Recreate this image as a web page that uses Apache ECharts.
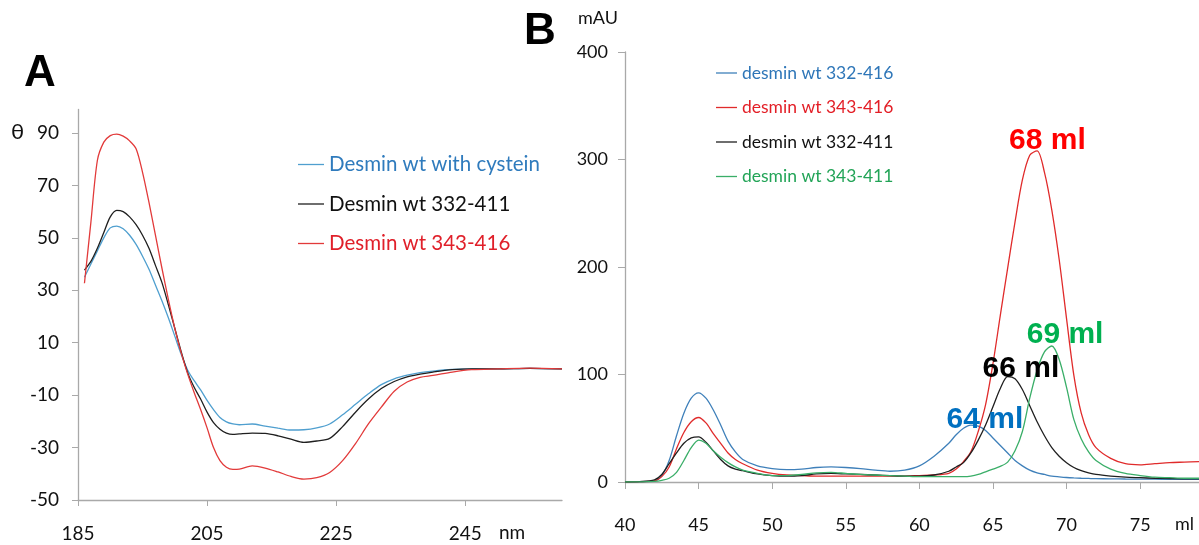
<!DOCTYPE html>
<html>
<head>
<meta charset="utf-8">
<script src="https://cdn.jsdelivr.net/npm/echarts@6/dist/echarts.min.js"></script>
<style>
html,body{margin:0;padding:0;background:#fff;}
#chart{width:1199px;height:545px;}
</style>
</head>
<body>
<div id="chart"></div>
<script>
// ---------- Panel A : CD spectra ----------
const wavelengthA = [186,187,188,189,190,191,192,193,194,195,196,197,198,199,200,201,202,203,204,205,206,207,208,209,210,212,214,216,218,220,222,224,226,228,230,232,234,236,238,240,243,246,250,255,260];
const cdCystein  = [35,40,45,50,53.8,54.5,53.5,51,47.5,43,38,32,26,19.5,12.5,5.5,-0.5,-4.5,-8,-12,-15.5,-18.5,-20.2,-21,-21.3,-21,-21.8,-22.6,-23.3,-23.2,-22.5,-21,-17.5,-13.5,-9.5,-6,-3.8,-2.4,-1.4,-0.8,-0.2,0,0,0.2,0];
const cd332_411  = [37.7,41,46,52,58,60.5,60,58,55,51,46,39.5,33,24.5,15.5,6.5,-1.5,-7,-11.5,-16.5,-20.5,-23,-24.5,-25,-24.8,-24.5,-24.6,-25.5,-26.8,-28,-27.5,-26.5,-22,-16.5,-11.5,-7.5,-4.8,-3,-2,-1.2,-0.3,0,0,0.2,0];
const cd343_416  = [32.7,56,79.5,86.5,89,89.6,88.8,87,84,75,63.5,51,38.5,26.5,15.5,6,-2,-9,-15.5,-22.5,-30,-35,-37.5,-38.3,-38.2,-37,-37.8,-39.3,-41,-42,-41.5,-39.5,-35,-28.5,-21,-14.6,-8.5,-5,-3.2,-2.5,-1.2,-0.3,0,0.3,0];
const namesA = ['Desmin wt with cystein','Desmin wt 332-411','Desmin wt 343-416'];
const yTicksA = [-50,-30,-10,10,30,50,70,90];
const xTicksA = [185,205,225,245];

// ---------- Panel B : size-exclusion chromatography ----------
const volumeB = [40,41,42,42.5,43,43.5,44,44.5,45,45.5,46,46.5,47,47.5,48,49,50,51,52,53,54,55,56,57,58,59,60,61,62,62.5,63,63.5,64,64.5,65,65.5,66,66.5,67,67.5,68,68.5,69,69.5,70,70.5,71,71.5,72,73,74,75,76,77,78,79];
const sec332_416 = [0,0.3,1,6,20,43,64,78,83,78,67,53,38,28,21,15,12.5,11.5,12,13.5,14,13.5,12.5,11,10,11,15,24,36,44,50,53,52,48,41,34,27,20,15,11,8.5,7,5.5,4.8,4.2,3.8,3.5,3.3,3.1,3,2.8,2.7,2.6,2.5,2.5,2.5];
const sec343_416 = [0,0.3,1,5,14,31,46,56,60,55,45,36,27,21,17,11,8,6.5,6,5.5,5.5,5.5,5.5,5.5,5.5,5.5,6,6.5,8,12,19,28,47,72,110,155,199,242,281,304,308,288,253,207,152,99,64,44,32,22,17,16,17,18,18.5,19];
const sec332_411 = [0,0.3,2,7,17,27,36,41,42,37,29,21,15,12,10.5,7.5,6,5.5,6,7.5,8,7.5,7,6.5,6,5.5,5.5,6.5,10,14,18,27,39,53,70,87,98,96,86,71,56,43,32,24,18,13.5,10.5,8.5,7,5.5,4.5,4,3.5,3.2,3,3];
const sec343_411 = [0,0.1,0.5,1.5,3.5,9,20,32,39,36,29,23,18,14,11,8,6,6,7,8.5,9,8,7,6.5,6,5.5,5,5,5,5,5,5.5,7,9.5,12,14.5,18.5,29,47,78,104,121,126.5,114,88,58,40,28,20,12,8,6,4.5,4,3.5,3.5];
const namesB = ['desmin wt 332-416','desmin wt 343-416','desmin wt 332-411','desmin wt 343-411'];
const peakLabels = ['64 ml','66 ml','68 ml','69 ml'];
const yTicksB = [0,100,200,300,400];
const xTicksB = [40,45,50,55,60,65,70,75];

const colA = ['#4f9fcf','#1f1f1f','#e23a3a'];
const txtA = ['#2f7bbd','#111111','#e0202a'];
const colB = ['#3f80ba','#e02b2b','#1f1f1f','#3aae68'];
const txtB = ['#2e76b8','#e31e26','#111111','#22a457'];
const labelFont = 'Lato, "Open Sans", sans-serif';

const zip = (xs, ys) => xs.map((x, i) => [x, ys[i]]);

const axisLineStyle = {onZero:false, lineStyle:{color:'#a9a9a9', width:1.3}};

const seriesA = [cdCystein, cd332_411, cd343_416].map((d, i) => ({
  name: namesA[i], type:'line', xAxisIndex:0, yAxisIndex:0,
  data: zip(wavelengthA, d), smooth:0.3, showSymbol:false, symbol:'none',
  lineStyle:{color:colA[i], width:1.3}, itemStyle:{color:colA[i]}, z: 3 + i
}));

// marker placement for peak labels (label centres, in data units)
const peakLabelPos = [[64.45,58],[66.9,105],[68.7,317],[69.9,137]];
const peakColors = ['#0070c0','#000000','#ff0000','#00b050'];
const peakSeriesIdx = [0,2,1,3];

const seriesB = [sec332_416, sec343_416, sec332_411, sec343_411].map((d, i) => ({
  name: namesB[i], type:'line', xAxisIndex:1, yAxisIndex:1,
  data: zip(volumeB, d), smooth:0.3, showSymbol:false, symbol:'none',
  lineStyle:{color:colB[i], width:1.3}, itemStyle:{color:colB[i]}, z: 3
}));
peakSeriesIdx.forEach((si, k) => {
  seriesB[si].markPoint = {
    symbol:'circle', symbolSize:0, silent:true, animation:false,
    label:{show:true, position:'inside', formatter:peakLabels[k], color:peakColors[k],
      fontFamily:'Arial, "Liberation Sans", sans-serif', fontWeight:'bold', fontSize:30},
    data:[{coord:peakLabelPos[k]}]
  };
});

const chart = echarts.init(document.getElementById('chart'), null, {renderer:'canvas'});
chart.setOption({
  animation:false,
  backgroundColor:'#ffffff',
  grid:[
    {left:78, top:109.4, width:484, height:390.6},
    {left:625, top:52, width:574, height:430}
  ],
  xAxis:[
    {type:'value', gridIndex:0, min:185, max:260, interval:20,
     axisLine:axisLineStyle, splitLine:{show:false},
     axisTick:{show:true, length:6, customValues:xTicksA, lineStyle:{color:'#a9a9a9'}},
     axisLabel:{customValues:xTicksA, margin:24, fontSize:19, color:'#111', fontFamily:labelFont}},
    {type:'value', gridIndex:1, min:40, max:79, interval:5,
     axisLine:axisLineStyle, splitLine:{show:false},
     axisTick:{show:true, length:7, customValues:xTicksB, lineStyle:{color:'#a9a9a9'}},
     axisLabel:{customValues:xTicksB, margin:34, fontSize:18, color:'#111', fontFamily:labelFont}}
  ],
  yAxis:[
    {type:'value', gridIndex:0, min:-50, max:99, interval:20,
     axisLine:{show:true, ...axisLineStyle}, splitLine:{show:false},
     axisTick:{show:true, length:6, customValues:yTicksA, lineStyle:{color:'#a9a9a9'}},
     axisLabel:{customValues:yTicksA, margin:19, fontSize:19, color:'#111', fontFamily:labelFont}},
    {type:'value', gridIndex:1, min:0, max:400, interval:100,
     axisLine:{show:true, ...axisLineStyle}, splitLine:{show:false},
     axisTick:{show:true, length:7, customValues:yTicksB, lineStyle:{color:'#a9a9a9'}},
     axisLabel:{customValues:yTicksB, margin:17, fontSize:18, color:'#111', fontFamily:labelFont}}
  ],
  legend:[
    {left:293, top:149, orient:'vertical', icon:'rect', itemWidth:26, itemHeight:1.3, itemGap:18.5,
     selectedMode:false,
     textStyle:{fontSize:20.5, lineHeight:20, fontFamily:labelFont},
     data: namesA.map((n, i) => ({name:n, textStyle:{color:txtA[i]}}))},
    {left:711, top:59, orient:'vertical', icon:'rect', itemWidth:21, itemHeight:1.3, itemGap:16.5,
     selectedMode:false,
     textStyle:{fontSize:17.5, lineHeight:17, fontFamily:labelFont},
     data: namesB.map((n, i) => ({name:n, textStyle:{color:txtB[i]}}))}
  ],
  graphic:[
    {type:'text', left:24, top:52, style:{text:'A', font:'bold 44px Arial, "Liberation Sans", sans-serif', fill:'#000'}},
    {type:'text', left:524, top:10, style:{text:'B', font:'bold 44px Arial, "Liberation Sans", sans-serif', fill:'#000'}},
    {type:'text', left:11, top:121, style:{text:'θ', font:'22px ' + labelFont, fill:'#111'}},
    {type:'text', left:499, top:523, style:{text:'nm', font:'19px ' + labelFont, fill:'#111'}},
    {type:'text', left:578, top:9, style:{text:'mAU', font:'18px ' + labelFont, fill:'#111'}},
    {type:'text', left:1175, top:515, style:{text:'ml', font:'18px ' + labelFont, fill:'#111'}}
  ],
  series: seriesA.concat(seriesB)
});
</script>
</body>
</html>
